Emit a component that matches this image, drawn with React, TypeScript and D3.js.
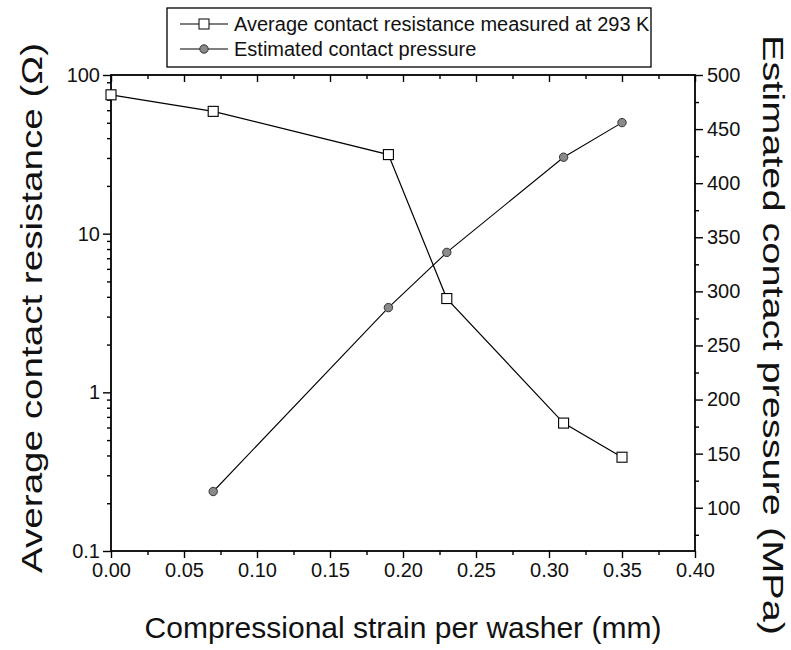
import * as d3 from 'd3';
import { useEffect, useRef } from 'react';

// strain per washer (mm) for each measured point
const strain = [0, 0.07, 0.19, 0.23, 0.31, 0.35];
// average contact resistance at 293 K (ohm)
const resistance = [75, 59, 31.5, 3.9, 0.64, 0.39];
// estimated contact pressure (MPa), no point at 0 mm
const pressureStrain = [0.07, 0.19, 0.23, 0.31, 0.35];
const pressure = [115, 285, 336, 424, 456];

const xTicks = [0, 0.05, 0.1, 0.15, 0.2, 0.25, 0.3, 0.35, 0.4];
const leftTicks = [0.1, 1, 10, 100];
const rightTicks = [100, 150, 200, 250, 300, 350, 400, 450, 500];

const legendLabels = ['Average contact resistance measured at 293 K', 'Estimated contact pressure'];

export default function App() {
  const svgRef = useRef<SVGSVGElement>(null);

  useEffect(() => {
    document.body.style.margin = '0';
    const svg = d3.select(svgRef.current);
    svg.selectAll('*').remove();

    const left = 111, right = 695, top = 75, bottom = 551;
    const font = 'Liberation Sans, Arial, sans-serif';

    const x = d3.scaleLinear().domain([0, 0.4]).range([left, right]);
    const yL = d3.scaleLog().domain([0.1, 100]).range([bottom, top]);
    const yR = d3.scaleLinear().domain([60, 500]).range([bottom, top]);

    const g = svg.append('g');

    // minor ticks
    const xMinor = d3.range(0.025, 0.4, 0.05);
    const leftMinor: number[] = [];
    [0.1, 1, 10].forEach(p => { for (let k = 2; k <= 9; k++) leftMinor.push(p * k); });
    const rightMinor = d3.range(75, 500, 50);

    const styleAxis = (sel: any) => {
      sel.select('.domain').remove();
      sel.selectAll('line').attr('stroke', '#000').attr('stroke-width', 1.4);
      sel.selectAll('text').attr('font-family', font).attr('font-size', 20).attr('fill', '#111');
    };

    // bottom
    g.append('g').attr('transform', `translate(0,${bottom})`)
      .call(d3.axisBottom(x).tickValues(xTicks).tickFormat(d3.format('.2f')).tickSize(7).tickPadding(5))
      .call(styleAxis);
    g.append('g').attr('transform', `translate(0,${bottom})`)
      .call(d3.axisBottom(x).tickValues(xMinor).tickFormat(() => '').tickSize(4))
      .call(styleAxis);
    // top (ticks pointing into the plot)
    g.append('g').attr('transform', `translate(0,${top})`)
      .call(d3.axisTop(x).tickValues(xTicks).tickFormat(() => '').tickSize(-7))
      .call(styleAxis);
    g.append('g').attr('transform', `translate(0,${top})`)
      .call(d3.axisTop(x).tickValues(xMinor).tickFormat(() => '').tickSize(-4))
      .call(styleAxis);
    // left log
    g.append('g').attr('transform', `translate(${left},0)`)
      .call(d3.axisLeft(yL).tickValues(leftTicks).tickFormat(d => String(d)).tickSize(8).tickPadding(3))
      .call(styleAxis);
    g.append('g').attr('transform', `translate(${left},0)`)
      .call(d3.axisLeft(yL).tickValues(leftMinor).tickFormat(() => '').tickSize(4))
      .call(styleAxis);
    // right linear
    g.append('g').attr('transform', `translate(${right},0)`)
      .call(d3.axisRight(yR).tickValues(rightTicks).tickFormat(d => String(d)).tickSize(8).tickPadding(4))
      .call(styleAxis);
    g.append('g').attr('transform', `translate(${right},0)`)
      .call(d3.axisRight(yR).tickValues(rightMinor).tickFormat(() => '').tickSize(4))
      .call(styleAxis);

    // frame
    g.append('rect').attr('x', left).attr('y', top).attr('width', right - left).attr('height', bottom - top)
      .attr('fill', 'none').attr('stroke', '#000').attr('stroke-width', 1.8);

    // resistance series
    const resPts = strain.map((s, i) => [x(s), yL(resistance[i])] as [number, number]);
    g.append('path').attr('d', d3.line()(resPts)).attr('fill', 'none').attr('stroke', '#000').attr('stroke-width', 1.2);
    g.selectAll('.sq').data(resPts).enter().append('rect')
      .attr('x', d => d[0] - 5).attr('y', d => d[1] - 5).attr('width', 10).attr('height', 10)
      .attr('fill', '#fff').attr('stroke', '#000').attr('stroke-width', 1.1);

    // pressure series
    const prPts = pressureStrain.map((s, i) => [x(s), yR(pressure[i])] as [number, number]);
    g.append('path').attr('d', d3.line()(prPts)).attr('fill', 'none').attr('stroke', '#000').attr('stroke-width', 1.1);
    g.selectAll('.ci').data(prPts).enter().append('circle')
      .attr('cx', d => d[0]).attr('cy', d => d[1]).attr('r', 4.2)
      .attr('fill', '#8a8a8a').attr('stroke', '#333').attr('stroke-width', 1);

    // axis titles
    g.append('text').attr('x', (left + right) / 2).attr('y', 638).attr('text-anchor', 'middle')
      .attr('font-family', font).attr('font-size', 30).attr('fill', '#111')
      .text('Compressional strain per washer (mm)');
    g.append('text').attr('transform', `translate(42,308) rotate(-90)`).attr('text-anchor', 'middle')
      .attr('font-family', font).attr('font-size', 30).attr('fill', '#111')
      .attr('textLength', 530).attr('lengthAdjust', 'spacingAndGlyphs')
      .text('Average contact resistance (Ω)');
    g.append('text').attr('transform', `translate(763,335) rotate(90)`).attr('text-anchor', 'middle')
      .attr('font-family', font).attr('font-size', 30).attr('fill', '#111')
      .attr('textLength', 600).attr('lengthAdjust', 'spacingAndGlyphs')
      .text('Estimated contact pressure (MPa)');

    // legend
    const lg = g.append('g');
    lg.append('rect').attr('x', 167).attr('y', 8).attr('width', 484).attr('height', 59)
      .attr('fill', '#fff').attr('stroke', '#000').attr('stroke-width', 1.3);
    legendLabels.forEach((label, i) => {
      const cy = 24 + i * 25;
      lg.append('line').attr('x1', 180).attr('x2', 228).attr('y1', cy).attr('y2', cy)
        .attr('stroke', '#000').attr('stroke-width', 1.2);
      if (i === 0) {
        lg.append('rect').attr('x', 199).attr('y', cy - 5).attr('width', 10).attr('height', 10)
          .attr('fill', '#fff').attr('stroke', '#000');
      } else {
        lg.append('circle').attr('cx', 204).attr('cy', cy).attr('r', 4.2)
          .attr('fill', '#8a8a8a').attr('stroke', '#333');
      }
      lg.append('text').attr('x', 234).attr('y', cy + 7).attr('font-family', font).attr('font-size', 20)
        .attr('fill', '#111').text(label);
    });
  }, []);

  return <svg ref={svgRef} width={791} height={650} style={{ display: 'block', background: '#fff' }} />;
}
